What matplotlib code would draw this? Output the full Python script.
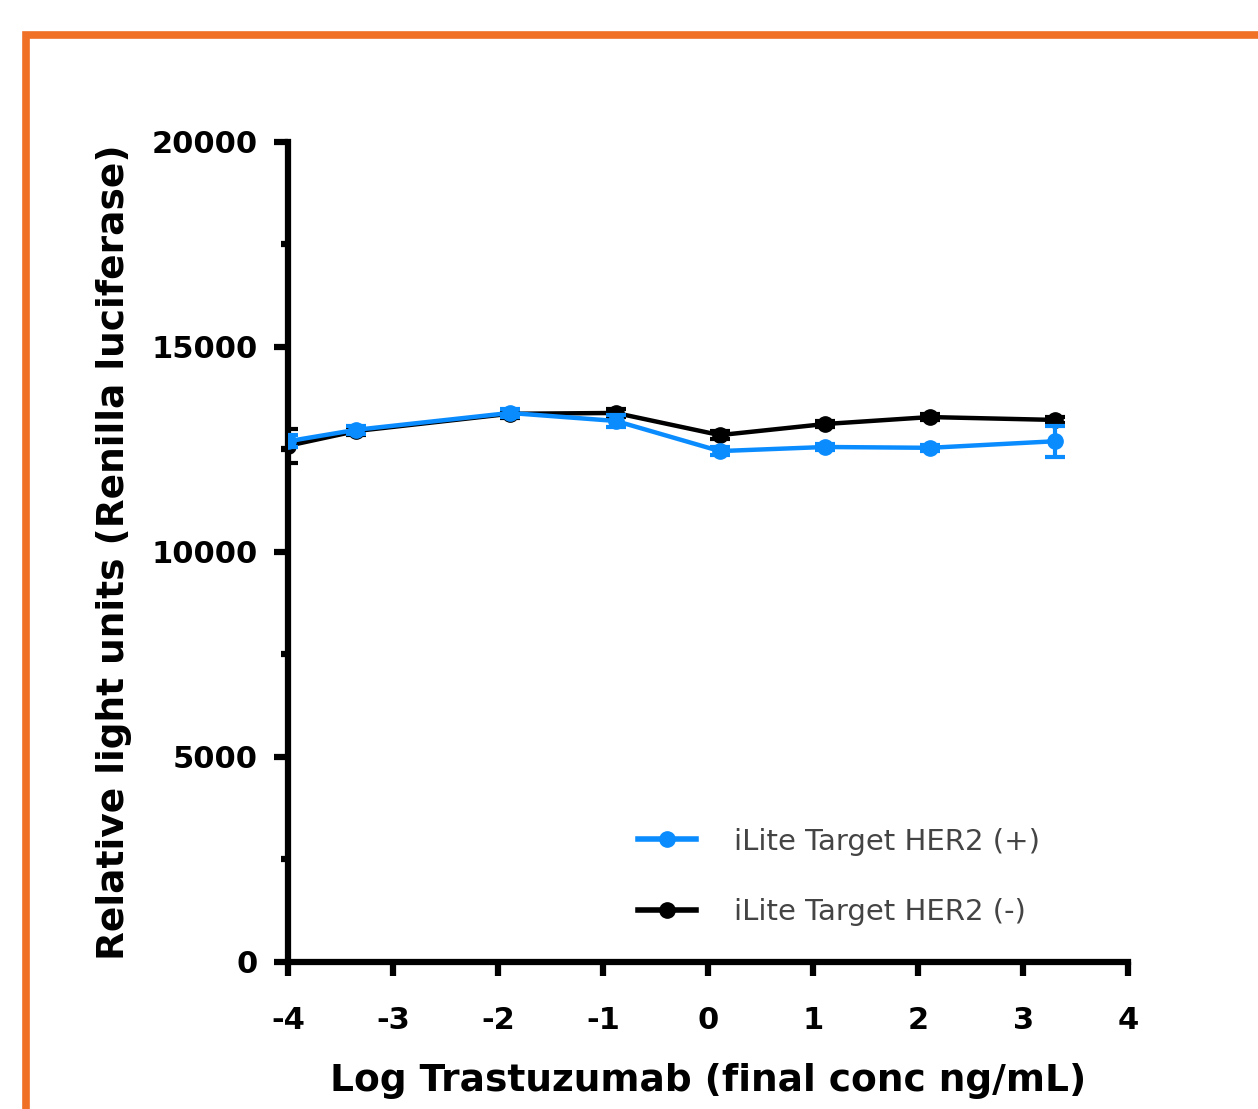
import matplotlib
matplotlib.use("Agg")
import matplotlib.pyplot as plt
from matplotlib.patches import Rectangle
from matplotlib.lines import Line2D

# data
log_conc = [-4.0, -3.35, -1.89, -0.88, 0.11, 1.11, 2.11, 3.3]
her2_pos = [12700, 12980, 13390, 13195, 12460, 12560, 12540, 12700]
her2_pos_err = [150, 100, 100, 150, 100, 80, 80, 380]
her2_neg = [12590, 12950, 13370, 13390, 12850, 13120, 13290, 13220]
her2_neg_err = [420, 100, 100, 100, 100, 80, 80, 80]

x_ticks = [-4, -3, -2, -1, 0, 1, 2, 3, 4]
y_ticks = [0, 5000, 10000, 15000, 20000]

blue = '#0a8cff'


def draw_chart() -> plt.Figure:
    fig = plt.figure(figsize=(12.58, 11.09), dpi=100)
    ax = fig.add_axes([0.229, 0.1326, 0.668, 0.7394])

    # orange frame around the panel (only left/top visible)
    frame = Rectangle((0.021, -0.05), 1.1, 1.018, transform=fig.transFigure,
                      fill=False, edgecolor='#f07026', linewidth=5.5,
                      clip_on=False)
    fig.patches.append(frame)

    ax.errorbar(log_conc, her2_neg, yerr=her2_neg_err, color='black',
                marker='o', markersize=11, linewidth=3.2, capsize=7,
                capthick=3, elinewidth=3, zorder=3)
    ax.errorbar(log_conc, her2_pos, yerr=her2_pos_err, color=blue,
                marker='o', markersize=11, linewidth=3.2, capsize=7,
                capthick=3, elinewidth=3, zorder=4)

    ax.set_xlim(-4, 4)
    ax.set_ylim(0, 20000)
    ax.set_xticks(x_ticks)
    ax.set_yticks(y_ticks)
    ax.set_yticks([2500, 7500, 12500, 17500], minor=True)
    ax.set_xticklabels([str(t) for t in x_ticks])
    ax.set_yticklabels([str(t) for t in y_ticks])

    for side in ['top', 'right']:
        ax.spines[side].set_visible(False)
    for side in ['left', 'bottom']:
        ax.spines[side].set_linewidth(4.5)
    ax.tick_params(axis='both', which='major', length=10, width=4.5,
                   direction='out', labelsize=22)
    ax.tick_params(axis='x', which='major', pad=22)
    ax.tick_params(axis='y', which='major', pad=12)
    ax.tick_params(axis='y', which='minor', length=5, width=4.5)
    for lab in ax.get_xticklabels() + ax.get_yticklabels():
        lab.set_fontweight('bold')

    ax.set_xlabel('Log Trastuzumab (final conc ng/mL)', fontsize=27,
                  fontweight='bold', labelpad=20)
    ax.set_ylabel('Relative light units (Renilla luciferase)', fontsize=27,
                  fontweight='bold', labelpad=14)

    # legend handles: line + marker only, no error bars
    handles = [Line2D([], [], color=blue, marker='o', markersize=11,
                      linewidth=4),
               Line2D([], [], color='black', marker='o', markersize=11,
                      linewidth=4)]
    labels = ['iLite Target HER2 (+)', 'iLite Target HER2 (-)']
    leg = ax.legend(handles, labels, loc='lower left',
                    bbox_to_anchor=(0.385, 0.012), frameon=False, fontsize=21,
                    handlelength=2.0, labelspacing=1.45, handletextpad=1.3)
    for txt in leg.get_texts():
        txt.set_color('#444444')
    return fig


def main():
    fig = draw_chart()
    fig.savefig("out.png", dpi=100)


if __name__ == "__main__":
    main()
